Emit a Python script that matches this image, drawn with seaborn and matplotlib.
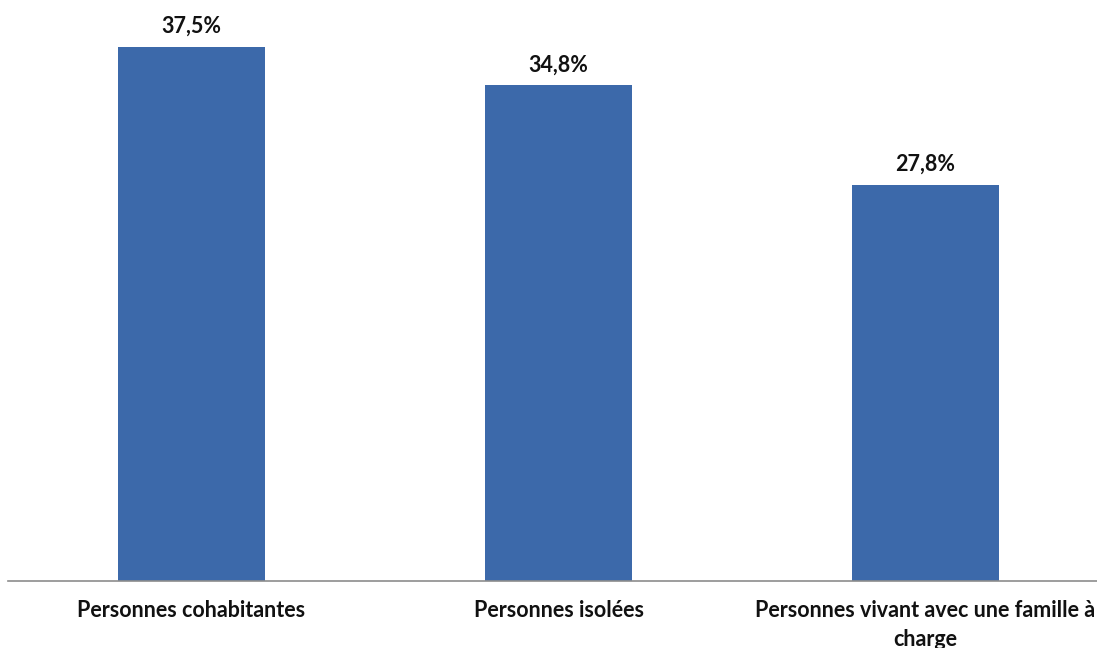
import matplotlib
matplotlib.use("Agg")
import matplotlib.pyplot as plt
import seaborn as sns

categories = ["Personnes cohabitantes", "Personnes isolées",
              "Personnes vivant avec une famille à\ncharge"]
values = [37.5, 34.8, 27.8]
value_labels = ["37,5%", "34,8%", "27,8%"]

sns.set_style("white")
plt.rcParams["font.family"] = ["Lato", "DejaVu Sans"]

fig = plt.figure(figsize=(10.97, 6.48), dpi=100)
ax = fig.add_axes([8 / 1097, 1 - 581 / 648, 1101 / 1097, 570 / 648])

sns.barplot(x=categories, y=values, color="#3C69AA", saturation=1,
            width=0.4, linewidth=0, ax=ax)

ax.set_ylim(0, 40)
ax.set_yticks([])
ax.set_xlabel("")
ax.set_ylabel("")
for side in ["top", "right", "left"]:
    ax.spines[side].set_visible(False)
ax.spines["bottom"].set_color("#8C8C8C")
ax.spines["bottom"].set_linewidth(1.2)
ax.tick_params(axis="x", length=0, pad=14)
for lbl in ax.get_xticklabels():
    lbl.set_fontweight("bold")
    lbl.set_fontsize(15.5)
    lbl.set_linespacing(1.45)
    lbl.set_verticalalignment("top")
    lbl.set_color("#111111")

for i, (v, t) in enumerate(zip(values, value_labels)):
    ax.annotate(t, (i, v), xytext=(0, 7), textcoords="offset points",
                ha="center", va="bottom", fontsize=15.5, fontweight="bold",
                color="#111111")

fig.savefig("out.png", dpi=100)
